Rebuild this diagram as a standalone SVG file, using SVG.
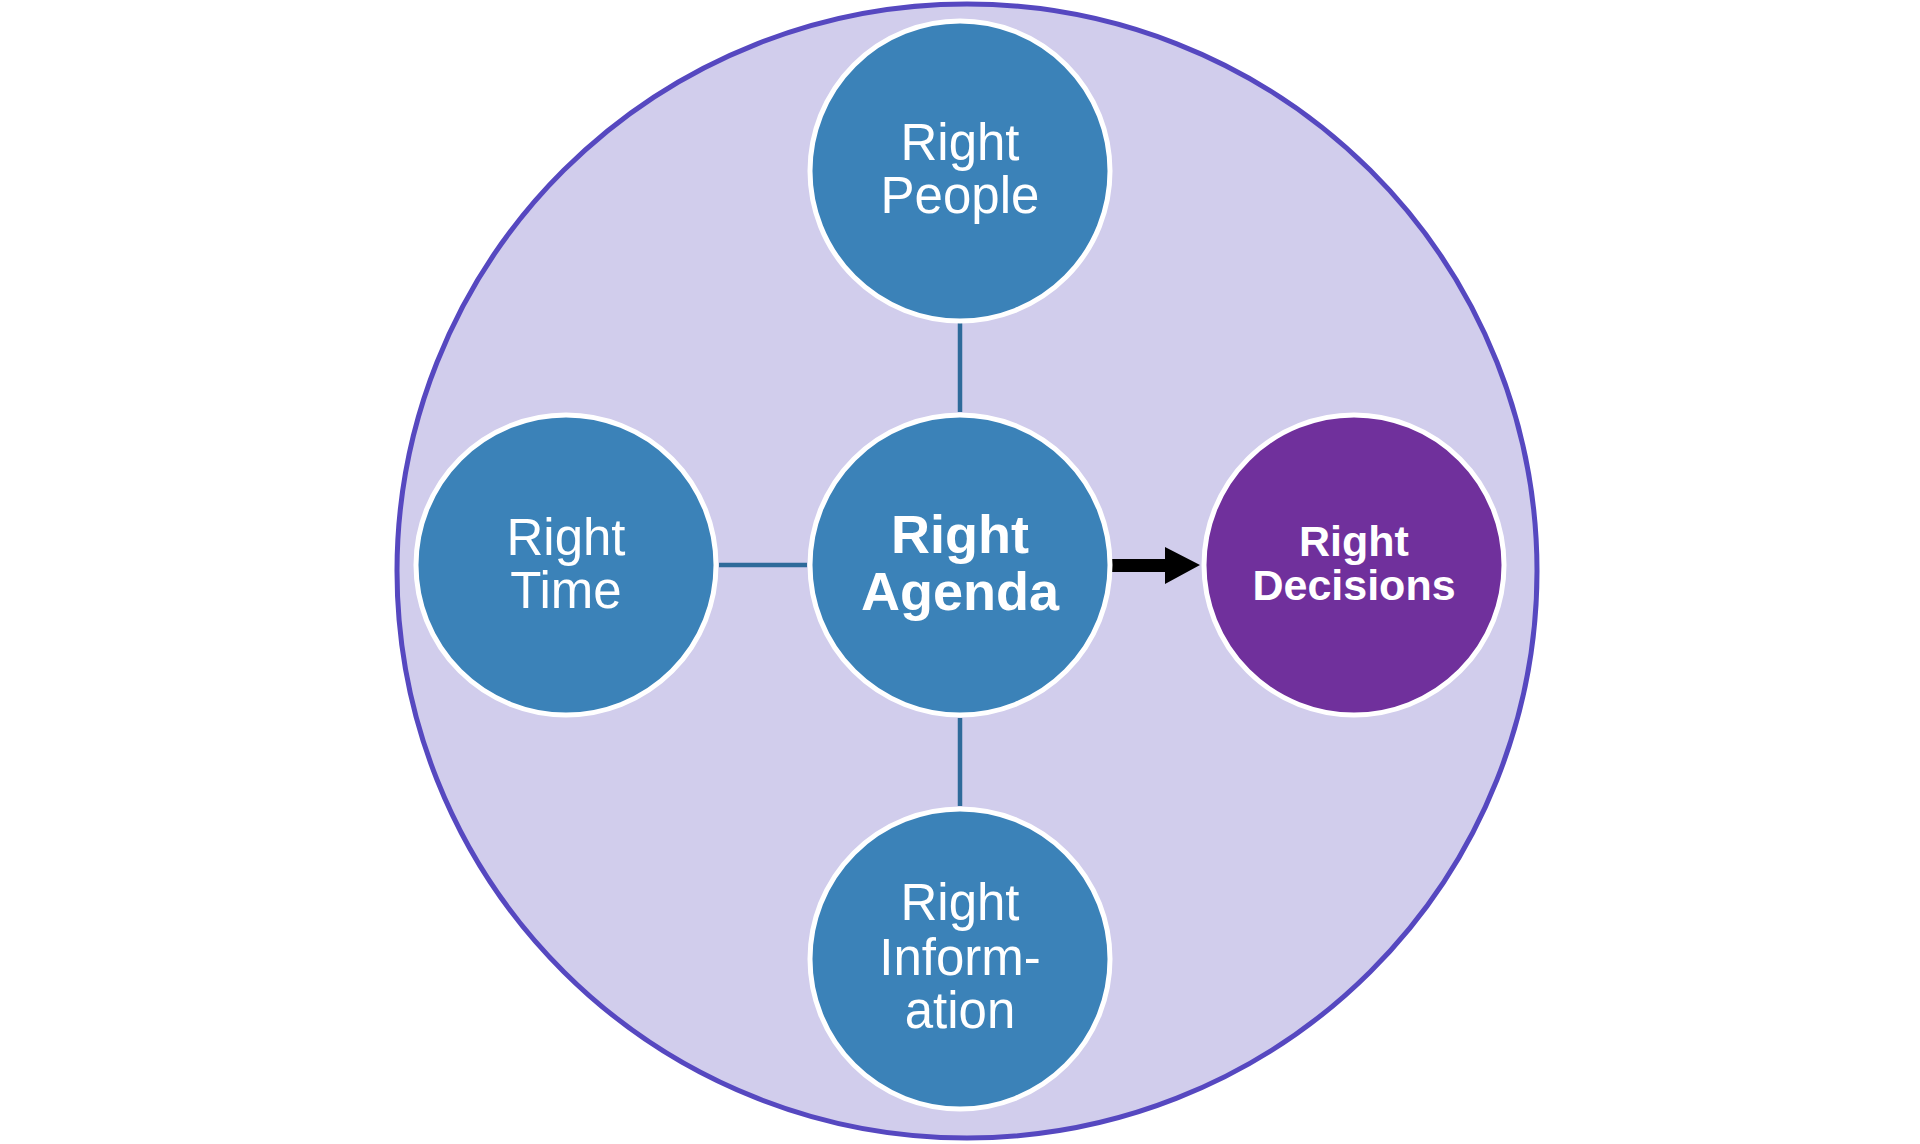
<svg xmlns="http://www.w3.org/2000/svg" width="1920" height="1144" viewBox="0 0 1920 1144">
<style>
.node{stroke:#ffffff;stroke-width:5}
.blue{fill:#3b82b8}
.purple{fill:#70309c}
.t{font-family:"Liberation Sans",Arial,sans-serif;fill:#ffffff;text-anchor:middle}
.b{font-weight:bold}
.link{stroke:#2e6a9a;stroke-width:4.5;fill:none}
</style>
<rect width="1920" height="1144" fill="#ffffff"/>
<g id="outer">
<ellipse cx="967" cy="571" rx="570" ry="567" fill="#d1cdec" stroke="#5648c0" stroke-width="5"/>
</g>
<g id="connectors">
<line class="link" x1="960" y1="323" x2="960" y2="412"/>
<line class="link" x1="960" y1="718" x2="960" y2="806"/>
<line class="link" x1="719" y1="565" x2="807" y2="565"/>
<path d="M1112 559 H1165 V547 L1200 565 L1165 584 V572 H1112 Z" fill="#000000"/>
</g>
<g id="people">
<circle class="node blue" cx="960" cy="171" r="150"/>
<text class="t" font-size="51"><tspan x="960" y="160">Right</tspan><tspan x="960" y="213">People</tspan></text>
</g>
<g id="time">
<circle class="node blue" cx="566" cy="565" r="150"/>
<text class="t" font-size="51"><tspan x="566" y="555">Right</tspan><tspan x="566" y="608">Time</tspan></text>
</g>
<g id="agenda">
<circle class="node blue" cx="960" cy="565" r="150"/>
<text class="t b" font-size="54"><tspan x="960" y="553">Right</tspan><tspan x="960" y="610">Agenda</tspan></text>
</g>
<g id="decisions">
<circle class="node purple" cx="1354" cy="565" r="150"/>
<text class="t b" font-size="43"><tspan x="1354" y="556">Right</tspan><tspan x="1354" y="600">Decisions</tspan></text>
</g>
<g id="information">
<circle class="node blue" cx="960" cy="959" r="150"/>
<text class="t" font-size="51"><tspan x="960" y="920">Right</tspan><tspan x="960" y="975">Inform-</tspan><tspan x="960" y="1028">ation</tspan></text>
</g>
</svg>
